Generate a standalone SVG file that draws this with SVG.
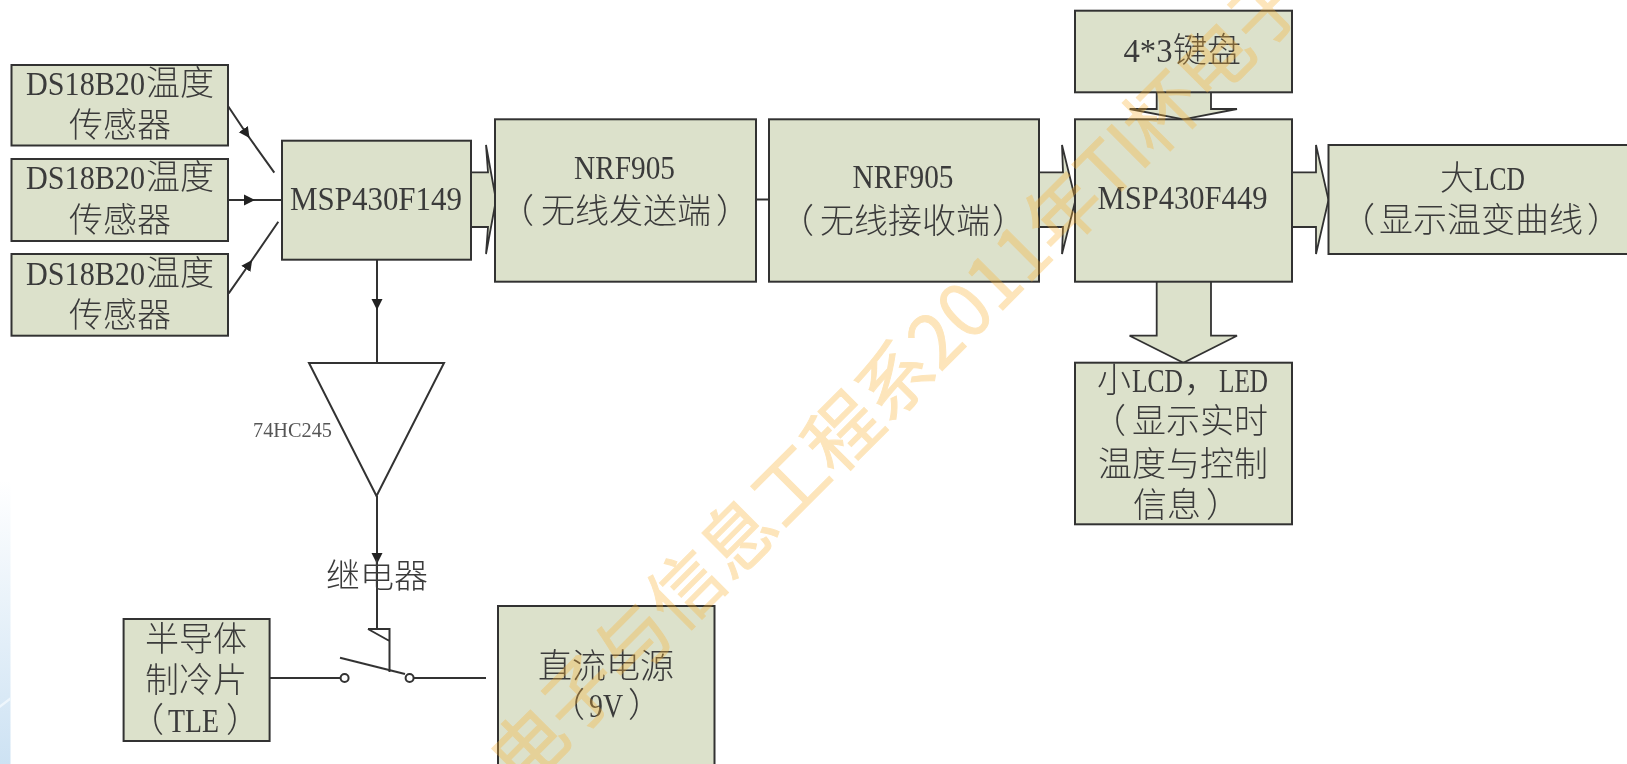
<svg xmlns="http://www.w3.org/2000/svg" width="1627" height="764" viewBox="0 0 1627 764">
<style>
.b{fill:#dce1cb;stroke:#333;stroke-width:2}
.t{font-family:"Liberation Serif","Noto Sans CJK SC",serif;font-size:34px;fill:#3a3a3a;font-weight:300}
.l{fill:none;stroke:#333;stroke-width:2}
.a{fill:#dce1cb;stroke:#333;stroke-width:1.8}
.w{font-family:"Noto Sans CJK SC","Noto Sans",sans-serif;font-size:74px;fill:#f9b233;stroke:#f9b233;stroke-width:1;opacity:.33}
</style>
<defs>
<linearGradient id="strip" x1="0" y1="0" x2="0" y2="1"><stop offset="0" stop-color="#fff"/><stop offset="1" stop-color="#cde2f3"/></linearGradient>
<marker id="h" markerUnits="userSpaceOnUse" markerWidth="14" markerHeight="14" refX="6" refY="7" orient="auto"><path d="M0 1.5 L11 7 L0 12.5Z" fill="#222"/></marker>
<filter id="soft" x="-5%" y="-5%" width="110%" height="110%"><feGaussianBlur stdDeviation="0.45"/></filter>
</defs>
<rect width="1627" height="764" fill="#fff"/>
<rect x="0" y="480" width="10.5" height="284" fill="url(#strip)"/>
<path d="M0 705 L10.5 697 L10.5 700 L0 708Z" fill="#eef6fc"/>
<g filter="url(#soft)">
<g id="connectors">
<polyline class="l" marker-mid="url(#h)" points="228,106 246.7,134 274.3,172.7"/>
<polyline class="l" marker-mid="url(#h)" points="228,200 250,200 282,200"/>
<polyline class="l" marker-mid="url(#h)" points="228.7,293.3 249.3,264 278.3,221.7"/>
<polyline class="l" marker-mid="url(#h)" points="377,260 377,305 377,363"/>
<polyline class="l" marker-mid="url(#h)" points="377,496 377,559 377,629"/>
<line class="l" x1="756" y1="199.5" x2="769" y2="199.5"/>
<path class="a" d="M471 172.3H488L486 145L496 200L486 254L488 227H471"/>
<path class="a" d="M1039 172.3H1063L1062 145L1075.5 200L1062 254L1063 227H1039"/>
<path class="a" d="M1292 172.3H1316V145L1328.5 200L1316 254V227H1292"/>
<path class="a" d="M1156.7 92.3V109H1129.6L1183.4 119.3L1237 109H1211V92.3"/>
<path class="a" d="M1156.7 281.7V335.7H1129.6L1183.4 362.7L1237 335.7H1211V281.7"/>
<path class="l" d="M368 629H389.5V672M368 629L389.5 641"/>
<line class="l" x1="340" y1="657.7" x2="405" y2="674"/>
<line class="l" x1="269.5" y1="678" x2="340.5" y2="678"/>
<line class="l" x1="414" y1="678" x2="486" y2="678"/>
<circle class="l" cx="344.6" cy="678" r="4" fill="#fff"/>
<circle class="l" cx="409.6" cy="678" r="4" fill="#fff"/>
</g>
<g id="sensor1"><rect class="b" x="11.5" y="65" width="216.5" height="80.5"/><text class="t" y="95"><tspan x="26" textLength="119" lengthAdjust="spacingAndGlyphs">DS18B20</tspan><tspan x="146">温度</tspan></text><text class="t" x="69" y="136.7">传感器</text></g>
<g id="sensor2"><rect class="b" x="11.5" y="159" width="216.5" height="82"/><text class="t" y="189"><tspan x="26" textLength="119" lengthAdjust="spacingAndGlyphs">DS18B20</tspan><tspan x="146">温度</tspan></text><text class="t" x="69" y="232">传感器</text></g>
<g id="sensor3"><rect class="b" x="11.5" y="254" width="216.5" height="81.7"/><text class="t" y="285"><tspan x="26" textLength="119" lengthAdjust="spacingAndGlyphs">DS18B20</tspan><tspan x="146">温度</tspan></text><text class="t" x="69" y="327">传感器</text></g>
<g id="msp149"><rect class="b" x="282" y="140.7" width="189" height="119"/><text class="t" x="290" y="210" textLength="172" lengthAdjust="spacingAndGlyphs">MSP430F149</text></g>
<g id="nrf-tx"><rect class="b" x="495" y="119.3" width="261" height="162.4"/><text class="t" x="574" y="179.3" textLength="101" lengthAdjust="spacingAndGlyphs">NRF905</text><text class="t" x="500 541 575 609 643 677 716" y="223">（无线发送端）</text></g>
<g id="nrf-rx"><rect class="b" x="769" y="119.3" width="270" height="162.4"/><text class="t" x="852.5" y="188" textLength="101" lengthAdjust="spacingAndGlyphs">NRF905</text><text class="t" x="780 820 854 888 922 956 992" y="232.7">（无线接收端）</text></g>
<g id="msp449"><rect class="b" x="1075" y="119.3" width="217" height="162.4"/><text class="t" x="1097.5" y="209.3" textLength="170" lengthAdjust="spacingAndGlyphs">MSP430F449</text></g>
<g id="keypad"><rect class="b" x="1075" y="10.7" width="217" height="81.6"/><text class="t" y="61.7"><tspan x="1123.5" textLength="49" lengthAdjust="spacingAndGlyphs">4*3</tspan><tspan x="1173">键盘</tspan></text></g>
<g id="biglcd"><rect class="b" x="1328.5" y="145" width="320" height="109"/><text class="t" y="190"><tspan x="1440">大</tspan><tspan x="1474" textLength="51" lengthAdjust="spacingAndGlyphs">LCD</tspan></text><text class="t" x="1341 1379 1413 1447 1481 1515 1549 1587" y="231.7">（显示温变曲线）</text></g>
<g id="smalllcd"><rect class="b" x="1075" y="362.7" width="217" height="161.6"/><text class="t" y="391.7"><tspan x="1097">小</tspan><tspan x="1132" textLength="51" lengthAdjust="spacingAndGlyphs">LCD</tspan><tspan x="1184">，</tspan><tspan x="1219" textLength="49" lengthAdjust="spacingAndGlyphs">LED</tspan></text><text class="t" x="1092 1132 1166 1200 1234" y="433">（显示实时</text><text class="t" x="1098" y="476">温度与控制</text><text class="t" x="1133 1167 1206" y="516.7">信息）</text></g>
<g id="buffer"><polygon class="l" points="309,363 444,363 376.5,496"/><text class="t" style="font-size:21px;fill:#555" x="253" y="436.7" textLength="79" lengthAdjust="spacingAndGlyphs">74HC245</text></g>
<g id="relay"><text class="t" x="326" y="588">继电器</text></g>
<g id="tle"><rect class="b" x="123.6" y="619" width="146" height="122"/><text class="t" x="145" y="650.7">半导体</text><text class="t" x="145" y="691.7">制冷片</text><text class="t" y="731.7"><tspan x="130">（</tspan><tspan x="168" textLength="51" lengthAdjust="spacingAndGlyphs">TLE</tspan><tspan x="226">）</tspan></text></g>
<g id="dc"><rect class="b" x="498" y="606" width="216.5" height="180"/><text class="t" x="538" y="678">直流电源</text><text class="t" y="716.7"><tspan x="551">（</tspan><tspan x="589" textLength="34" lengthAdjust="spacingAndGlyphs">9V</tspan><tspan x="628">）</tspan></text></g>
</g>
<g id="watermark"><text class="w" transform="translate(521.5 791.5) rotate(-45)">电子与信息工程系2011年TI杯电子</text></g>
</svg>
